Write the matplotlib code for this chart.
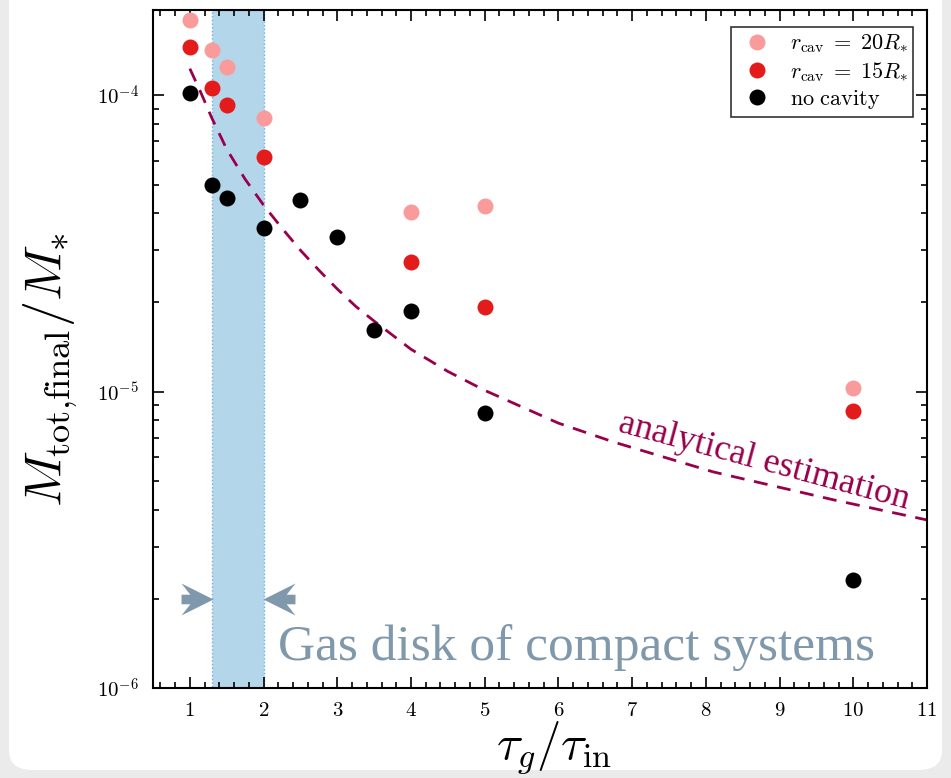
import numpy as np
import matplotlib
matplotlib.use('Agg')
import matplotlib.pyplot as plt
from matplotlib.ticker import MultipleLocator, LogLocator, NullFormatter
from matplotlib.patches import FancyBboxPatch
from matplotlib.path import Path

plt.rcParams['mathtext.fontset'] = 'cm'
plt.rcParams['font.family'] = ['Liberation Serif', 'DejaVu Serif']

# data
tau_20 = [1, 1.3, 1.5, 2, 4, 5, 10]
m_20 = [1.79e-4, 1.42e-4, 1.25e-4, 8.4e-5, 4.03e-5, 4.22e-5, 1.03e-5]

tau_15 = [1, 1.3, 1.5, 2, 4, 5, 10]
m_15 = [1.46e-4, 1.06e-4, 9.3e-5, 6.2e-5, 2.74e-5, 1.93e-5, 8.6e-6]

tau_nc = [1, 1.3, 1.5, 2, 2.5, 3, 3.5, 4, 5, 10]
m_nc = [1.02e-4, 5.0e-5, 4.5e-5, 3.56e-5, 4.43e-5, 3.32e-5, 1.61e-5, 1.87e-5, 8.5e-6, 2.31e-6]

# analytical estimation curve (read off)
tau_an = [1, 1.15, 1.3, 1.5, 1.75, 2, 2.25, 2.5, 2.75, 3, 3.25, 3.5, 4, 4.5, 5,
          6, 6.75, 8.1, 9.74, 11]
m_an = [1.23e-4, 1.02e-4, 8.36e-5, 6.58e-5, 5.21e-5, 4.26e-5, 3.56e-5, 3.00e-5,
        2.57e-5, 2.22e-5, 1.94e-5, 1.73e-5, 1.39e-5, 1.17e-5, 1.01e-5,
        7.83e-6, 6.76e-6, 5.36e-6, 4.31e-6, 3.69e-6]

xticks = [1, 2, 3, 4, 5, 6, 7, 8, 9, 10, 11]
yticks = [1e-6, 1e-5, 1e-4]
ylabels = [r'$10^{-6}$', r'$10^{-5}$', r'$10^{-4}$']

grey = '#7f98ab'
wine = '#99004c'

fig = plt.figure(figsize=(9.51, 7.78), dpi=100)
fig.patch.set_facecolor('#ebebeb')
bg = FancyBboxPatch((9 / 951, 8 / 778), 933 / 951, 800 / 778,
                    boxstyle='round,pad=0,rounding_size=0.025',
                    transform=fig.transFigure, facecolor='white',
                    edgecolor='none', zorder=-10)
fig.patches.append(bg)

ax = fig.add_axes([153 / 951, 90 / 778, 774 / 951, 678 / 778])

ax.axvspan(1.3, 2, facecolor='#b3d6ea', edgecolor='#6fb1dc', lw=1, ls=':', zorder=0)

ax.plot(tau_an, m_an, ls=(0, (5, 3.5)), color=wine, lw=2, zorder=2)

ax.plot(tau_20, m_20, 'o', color='#fa9b9b', ms=11.5, mec='none', zorder=3,
        label=r'$r_{\rm cav}\;=\;20R_{*}$')
ax.plot(tau_15, m_15, 'o', color='#e31b1b', ms=11.5, mec='none', zorder=3,
        label=r'$r_{\rm cav}\;=\;15R_{*}$')
ax.plot(tau_nc, m_nc, 'o', color='black', ms=11.5, mec='none', zorder=3,
        label=r'$\mathrm{no\ cavity}$')

ax.set_yscale('log')
ax.set_xlim(0.5, 11)
ax.set_ylim(1e-6, 1.94e-4)

ax.set_xticks(xticks)
ax.set_xticklabels(['$%d$' % t for t in xticks], fontsize=15)
ax.xaxis.set_minor_locator(MultipleLocator(0.2))
ax.set_yticks(yticks)
ax.set_yticklabels(ylabels, fontsize=15)
ax.yaxis.set_minor_locator(LogLocator(base=10, subs=np.arange(2, 10)))
ax.yaxis.set_minor_formatter(NullFormatter())
ax.tick_params(which='both', direction='in', top=True, right=True, width=1.2)
ax.tick_params(which='major', length=8, pad=10)
ax.tick_params(which='minor', length=4)
for s in ax.spines.values():
    s.set_linewidth(1.5)

ax.set_xlabel(r'$\tau_g/\tau_{\rm in}$', fontsize=35)
ax.xaxis.set_label_coords(0.518, -0.047)
ax.set_ylabel(r'$M_{\mathrm{tot{,}final}}/M_{*}$', fontsize=37.5)
ax.yaxis.set_label_coords(-0.094, 0.47)

leg = ax.legend(loc='upper right', bbox_to_anchor=(0.982, 0.975), borderaxespad=0,
                fontsize=16, frameon=True, fancybox=False, edgecolor='black',
                handletextpad=0.5, labelspacing=0.2, borderpad=0.25,
                handlelength=1.9)
leg.get_frame().set_linewidth(1.2)

ax.text(8.79, 5.78e-6, 'analytical estimation', color=wine, fontsize=26,
        rotation=-15, ha='center', va='center', rotation_mode='anchor')

ax.text(2.2, 1.24e-6, 'Gas disk of compact systems', color=grey, fontsize=37,
        ha='left', va='baseline')

# barbed arrow marker pointing right, tip at (1, 0)
arrow_r = Path([(1, 0), (-1, 1), (-0.45, 0.3), (-1, 0.3), (-1, -0.3),
                (-0.45, -0.3), (-1, -1), (1, 0)])
arrow_l = Path([(-x, y) for x, y in arrow_r.vertices])
ax.plot([1.096], [2e-6], marker=arrow_r, ms=23, color=grey, mec='none', zorder=4)
ax.plot([2.204], [2e-6], marker=arrow_l, ms=23, color=grey, mec='none', zorder=4)

fig.savefig('out.png', dpi=100)
